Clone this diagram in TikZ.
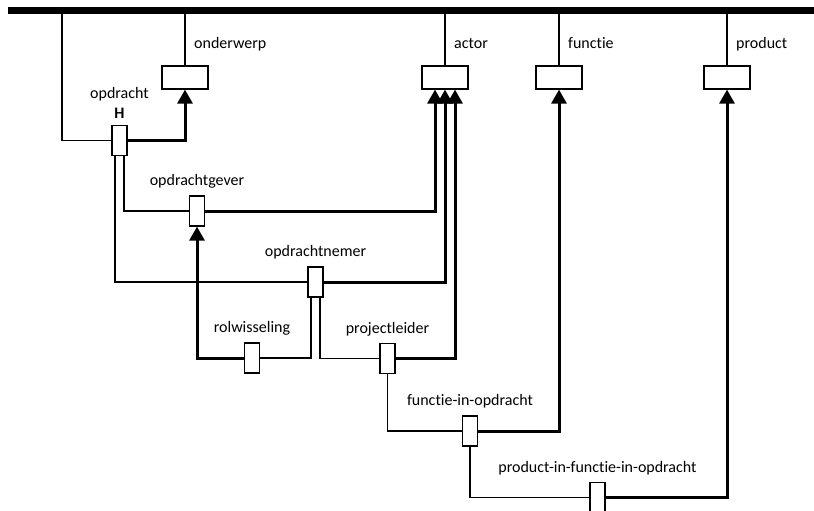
\documentclass[tikz,border=0pt]{standalone}
\usepackage{fontspec}
\setmainfont{Carlito}[Ligatures=NoCommon]
\usetikzlibrary{arrows.meta,positioning}

\begin{document}
\begin{tikzpicture}[x=1pt,y=-1pt]
\tikzstyle{every node}+=[inner sep=0pt, font=\fontsize{16}{19}\selectfont]
\tikzstyle{objtype}=[draw, line width=1.2pt, minimum width=46pt, minimum height=23pt]
\tikzstyle{facttype}=[draw, line width=1.2pt, minimum width=15pt, minimum height=30pt]
\tikzstyle{link}=[line width=1.2pt]
\tikzstyle{ref}=[line width=3pt, -{Triangle[length=14pt,width=15pt]}]
\useasboundingbox (0,0) rectangle (814,511);
% top bar
\draw [line width=7pt] (8,10.5) -- (814,10.5);
\coordinate (bar) at (0,10.5);
% object types
\node [objtype] (onderwerp) at (185,77.5) {};
\node [objtype] (actor) at (445,77.5) {};
\node [objtype] (functie) at (559,77.5) {};
\node [objtype] (product) at (727,77.5) {};
\foreach \o in {onderwerp,actor,functie,product} {
  \draw [link] (\o.north) -- (\o.north |- bar);
  \node [anchor=base west] at ([xshift=9pt,yshift=17pt]\o.north) {\o};
}
% fact types
\node [facttype] (opdracht) at (119.5,140.5) {};
\node [facttype] (opdrachtgever) at (197,211) {};
\node [facttype] (opdrachtnemer) at (315.5,282) {};
\node [facttype] (rolwisseling) at (252,358) {};
\node [facttype] (projectleider) at (387.5,358.5) {};
\node [facttype] (fio) at (470,431) {};
\node [facttype] (pfio) at (597.5,497.5) {};
\node [anchor=base] at ([yshift=26pt]opdracht.north) {opdracht};
\node [anchor=base] at ([yshift=6pt]opdracht.north) {\textbf{H}};
\node [anchor=base] at ([yshift=9.5pt]opdrachtgever.north) {opdrachtgever};
\node [anchor=base] at ([yshift=9.5pt]opdrachtnemer.north) {opdrachtnemer};
\node [anchor=base] at ([yshift=9.5pt]rolwisseling.north) {rolwisseling};
\node [anchor=base] at ([yshift=9.5pt]projectleider.north) {projectleider};
\node [anchor=base] at ([yshift=9.5pt]fio.north) {functie-in-opdracht};
\node [anchor=base] at ([yshift=9.5pt]pfio.north) {product-in-functie-in-opdracht};
% roles
\coordinate (opdracht-top) at (62,10.5);
\draw [link] (opdracht-top) |- (opdracht.west);
\draw [ref] (opdracht.east) -| (onderwerp.south);
\draw [link] ([xshift=4.5pt]opdracht.south) |- (opdrachtgever.west);
\draw [link] ([xshift=-4.5pt]opdracht.south) |- (opdrachtnemer.west);
\draw [ref] (opdrachtgever.east) -| ([xshift=-10pt]actor.south);
\draw [ref] (opdrachtnemer.east) -| (actor.south);
\draw [link] ([xshift=-4.5pt]opdrachtnemer.south) |- (rolwisseling.east);
\draw [link] ([xshift=4.5pt]opdrachtnemer.south) |- (projectleider.west);
\draw [ref] (rolwisseling.west) -| (opdrachtgever.south);
\draw [ref] (projectleider.east) -| ([xshift=10pt]actor.south);
\draw [link] (projectleider.south) |- (fio.west);
\draw [ref] (fio.east) -| (functie.south);
\draw [link] (fio.south) |- (pfio.west);
\draw [ref] (pfio.east) -| (product.south);
\end{tikzpicture}
\end{document}
